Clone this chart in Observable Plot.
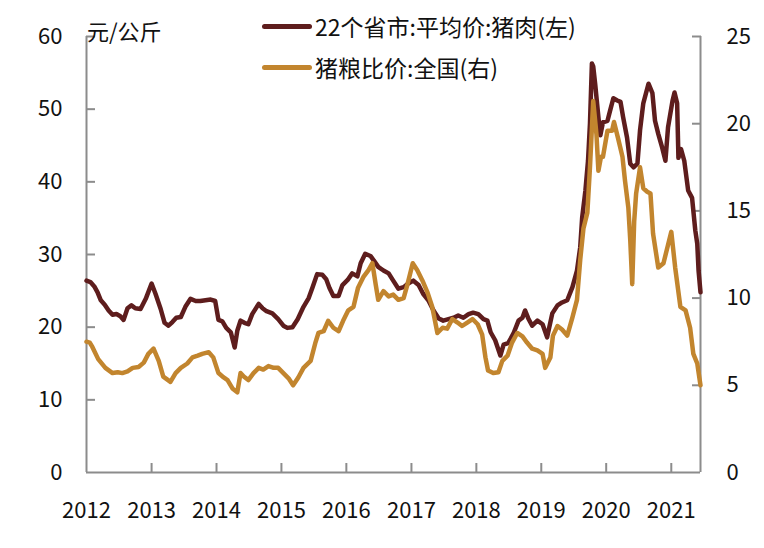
<!DOCTYPE html>
<html><head><meta charset="utf-8">
<script src="https://cdn.jsdelivr.net/npm/d3@7"></script>
<script src="https://cdn.jsdelivr.net/npm/@observablehq/plot@0.6"></script>
<style>
body{margin:0;background:#fff;font-family:"Noto Sans CJK SC","Noto Sans",sans-serif;}
#wrap{position:relative;width:764px;height:548px;overflow:hidden;}
#wrap svg{position:absolute;left:0;top:0;}
.legend{position:absolute;left:262px;font-size:23px;line-height:30px;color:#111;display:flex;align-items:center;white-space:nowrap;}
.legend .sw{width:50px;height:5px;border-radius:3px;margin-right:3px;}
.unit{position:absolute;left:87px;top:15px;font-size:22px;line-height:30px;color:#111;white-space:nowrap;}
</style></head><body><div id="wrap"></div>
<script>
// ---- data (decimal years, values) ----
const porkT = [2012.00,2012.06,2012.12,2012.17,2012.22,2012.28,2012.34,2012.40,2012.46,2012.52,2012.57,2012.63,2012.69,2012.75,2012.83,2012.91,
2013.00,2013.06,2013.14,2013.20,2013.26,2013.32,2013.38,2013.45,2013.52,2013.60,2013.68,2013.75,2013.83,2013.91,2013.98,
2014.03,2014.09,2014.15,2014.22,2014.28,2014.32,2014.37,2014.43,2014.49,2014.55,2014.65,2014.71,2014.77,2014.86,2014.95,
2015.03,2015.09,2015.17,2015.25,2015.34,2015.42,2015.48,2015.55,2015.63,2015.69,2015.74,2015.80,2015.88,2015.94,
2016.02,2016.09,2016.17,2016.22,2016.29,2016.37,2016.42,2016.49,2016.57,2016.65,2016.72,2016.80,2016.88,2016.95,
2017.03,2017.11,2017.18,2017.26,2017.34,2017.42,2017.49,2017.57,2017.65,2017.72,2017.80,2017.88,2017.95,
2018.03,2018.11,2018.17,2018.22,2018.29,2018.37,2018.42,2018.49,2018.57,2018.65,2018.71,2018.75,2018.80,2018.86,2018.94,
2019.02,2019.09,2019.17,2019.25,2019.32,2019.40,2019.48,2019.55,2019.60,2019.63,2019.68,2019.72,2019.75,2019.78,2019.80,2019.83,2019.88,2019.91,2019.95,
2020.02,2020.06,2020.11,2020.17,2020.22,2020.26,2020.32,2020.37,2020.42,2020.48,2020.52,2020.57,2020.65,2020.71,2020.75,2020.80,2020.86,2020.91,2020.95,
2021.02,2021.05,2021.09,2021.11,2021.15,2021.20,2021.26,2021.32,2021.37,2021.40,2021.42,2021.45];
const porkV = [26.4,26.2,25.6,24.8,23.7,23.1,22.3,21.7,21.8,21.5,21.0,22.6,23.0,22.6,22.5,23.9,
26.0,24.6,22.5,20.6,20.2,20.7,21.3,21.4,22.8,23.9,23.6,23.6,23.7,23.8,23.6,
21.0,20.8,19.9,19.3,17.2,19.5,20.9,20.6,20.4,21.8,23.2,22.6,22.2,21.9,21.1,
20.2,19.9,20.0,21.1,22.8,24.0,25.5,27.3,27.2,26.6,25.4,24.3,24.3,25.8,
26.5,27.4,27.0,28.8,30.1,29.8,29.2,28.3,27.8,27.4,26.4,25.3,25.5,26.0,
26.4,25.8,24.6,23.7,22.3,21.2,20.9,21.1,21.3,21.6,21.3,21.8,22.0,
21.8,21.1,20.9,19.3,18.2,16.1,17.6,17.8,19.1,20.9,21.3,22.3,21.2,20.2,20.9,
20.4,18.6,21.9,23.0,23.4,23.7,25.5,27.8,31.0,35.1,38.8,42.9,48.0,56.3,55.9,53.5,48.9,46.4,48.2,
48.4,49.8,51.5,51.2,51.0,48.9,46.1,42.5,42.0,42.5,47.1,50.8,53.5,52.2,48.4,46.6,44.7,42.9,47.5,
51.2,52.3,50.8,43.3,44.5,42.9,38.8,37.8,33.3,31.5,27.8,24.8];

const ratioT = [2012.00,2012.05,2012.09,2012.18,2012.29,2012.40,2012.48,2012.55,2012.63,2012.71,2012.80,2012.88,2012.95,
2013.03,2013.11,2013.18,2013.29,2013.37,2013.45,2013.55,2013.63,2013.71,2013.78,2013.88,2013.95,
2014.03,2014.11,2014.17,2014.25,2014.32,2014.37,2014.42,2014.49,2014.57,2014.65,2014.72,2014.80,2014.88,2014.95,
2015.03,2015.11,2015.18,2015.26,2015.34,2015.45,2015.52,2015.57,2015.65,2015.72,2015.80,2015.88,2015.95,
2016.03,2016.11,2016.18,2016.26,2016.34,2016.40,2016.45,2016.49,2016.57,2016.65,2016.72,2016.80,2016.88,2016.94,
2017.02,2017.09,2017.17,2017.25,2017.32,2017.40,2017.48,2017.55,2017.63,2017.71,2017.78,2017.86,2017.94,
2018.02,2018.09,2018.14,2018.18,2018.26,2018.34,2018.40,2018.48,2018.55,2018.63,2018.71,2018.78,2018.86,2018.94,
2019.02,2019.06,2019.14,2019.18,2019.25,2019.32,2019.40,2019.48,2019.55,2019.60,2019.65,2019.71,2019.75,2019.80,2019.85,2019.88,2019.92,2019.95,
2020.02,2020.09,2020.12,2020.18,2020.25,2020.29,2020.34,2020.37,2020.40,2020.43,2020.46,2020.52,2020.57,2020.63,2020.68,2020.72,2020.80,2020.88,2020.94,
2021.00,2021.06,2021.14,2021.22,2021.29,2021.34,2021.40,2021.45];
const ratioV = [7.5,7.45,7.2,6.5,6.0,5.7,5.75,5.7,5.8,6.0,6.05,6.3,6.8,
7.1,6.4,5.5,5.2,5.7,6.0,6.25,6.6,6.7,6.8,6.9,6.6,
5.7,5.45,5.3,4.8,4.6,5.7,5.5,5.3,5.7,6.0,5.9,6.1,6.0,6.0,
5.7,5.4,5.0,5.45,6.0,6.4,7.4,8.0,8.1,8.7,8.3,8.1,8.7,
9.3,9.5,10.6,11.2,11.6,12.0,10.8,9.9,10.4,10.1,10.2,9.9,10.0,10.8,
12.0,11.6,11.0,10.3,9.5,8.0,8.3,8.25,8.8,8.6,8.4,8.6,8.8,
8.5,7.9,6.6,5.85,5.7,5.75,6.4,6.7,7.45,8.0,7.8,7.45,7.1,
7.0,6.8,6.0,6.6,7.85,8.4,8.2,7.85,8.9,9.9,12.2,14.0,14.9,17.5,21.3,19.4,17.3,18.1,18.1,
19.6,19.6,20.1,19.2,18.1,16.7,15.2,13.3,10.8,14.4,16.0,17.5,16.3,16.1,16.0,13.7,11.75,12.0,12.9,
13.8,11.75,9.5,9.3,8.3,6.8,6.25,5.0];

const leftTicks = [0,10,20,30,40,50,60];
const rightTicks = [0,5,10,15,20,25];
const yearTicks = [2012,2013,2014,2015,2016,2017,2018,2019,2020,2021];
const seriesNames = ["22个省市:平均价:猪肉(左)","猪粮比价:全国(右)"];
const seriesColors = ["#5e1d1d","#c2852e"];
const unitLabel = "元/公斤";

// ---- build ----
const toDate = t => { const y = Math.floor(t + 1e-9); const s = Date.UTC(y,0,1), e = Date.UTC(y+1,0,1); return new Date(s + (t - y) * (e - s)); };
const pork = porkT.map((t,i) => ({date: toDate(t), v: porkV[i]}));
const ratio = ratioT.map((t,i) => ({date: toDate(t), v: ratioV[i]}));
const k = 60/25;
const xDomain = [toDate(2012), toDate(2021.45)];
const years = yearTicks.map(y => toDate(y));
const axisGray = "#8c8c8c";
const font = '"Noto Sans CJK SC","Noto Sans",sans-serif';

const chart = Plot.plot({
  width: 764, height: 548,
  marginLeft: 86, marginRight: 64, marginTop: 36, marginBottom: 76,
  style: {fontFamily: font, fontSize: "22px", color: "#111", background: "transparent", overflow: "visible"},
  x: {type: "utc", domain: xDomain},
  y: {domain: [0, 60]},
  marks: [
    Plot.ruleX([xDomain[0], xDomain[1]], {stroke: axisGray, strokeWidth: 2}),
    Plot.ruleY([0], {stroke: axisGray, strokeWidth: 2}),
    Plot.axisY(leftTicks, {anchor: "left", tickSize: 0, tickPadding: 24, label: null}),
    Plot.axisY(leftTicks.slice(1), {anchor: "left", tickSize: -9, fill: "none", stroke: axisGray, strokeWidth: 2, label: null}),
    Plot.axisY(rightTicks.map(v => v*k), {anchor: "right", tickSize: 0, tickPadding: 26, tickFormat: d => Math.round(d/k), label: null}),
    Plot.axisY(rightTicks.slice(1).map(v => v*k), {anchor: "right", tickSize: -9, fill: "none", stroke: axisGray, strokeWidth: 2, label: null}),
    Plot.axisX(years, {anchor: "bottom", tickSize: 0, tickPadding: 30, tickFormat: d => String(d.getUTCFullYear()), label: null}),
    Plot.axisX(years.slice(1), {anchor: "bottom", tickSize: -9, fill: "none", stroke: axisGray, strokeWidth: 2, label: null}),
    Plot.line(pork, {x: "date", y: "v", stroke: seriesColors[0], strokeWidth: 4.5, strokeLinejoin: "round"}),
    Plot.line(ratio, {x: "date", y: d => d.v * k, stroke: seriesColors[1], strokeWidth: 4.5, strokeLinejoin: "round"})
  ]
});

const wrap = document.getElementById("wrap");
wrap.appendChild(chart);
const unit = document.createElement("div");
unit.className = "unit"; unit.textContent = unitLabel; wrap.appendChild(unit);
seriesNames.forEach((name, i) => {
  const d = document.createElement("div");
  d.className = "legend";
  d.style.top = (11 + i*41) + "px";
  const sw = document.createElement("span"); sw.className = "sw"; sw.style.background = seriesColors[i];
  const tx = document.createElement("span"); tx.textContent = name;
  d.appendChild(sw); d.appendChild(tx); wrap.appendChild(d);
});
</script></body></html>
